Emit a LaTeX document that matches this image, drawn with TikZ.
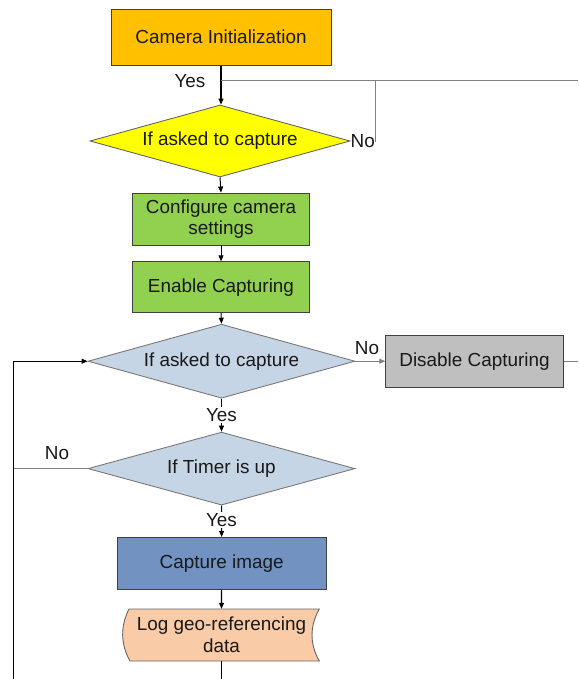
\documentclass[tikz,border=0pt]{standalone}
\usepackage{fontspec}
\setmainfont{Liberation Sans}
\usetikzlibrary{shapes.geometric,arrows.meta}

\definecolor{camorange}{HTML}{FFC000}
\definecolor{askyellow}{HTML}{FFFF00}
\definecolor{stepgreen}{HTML}{92D050}
\definecolor{decblue}{HTML}{C6D5E5}
\definecolor{offgray}{HTML}{BFBFBF}
\definecolor{capblue}{HTML}{7293C1}
\definecolor{logpeach}{HTML}{F9CBA7}
\definecolor{boxline}{HTML}{404040}
\definecolor{wire}{HTML}{7F7F7F}

\begin{document}
\begin{tikzpicture}[x=1pt,y=-1pt,
  every node/.style={font=\fontsize{18.9}{21.6}\selectfont, inner sep=0pt, text=black!90},
  box/.style={rectangle, draw=boxline, line width=0.9pt, align=center},
  dec/.style={diamond, draw=boxline!80, line width=0.9pt, align=center},
  lbl/.style={fill=white, inner sep=1.5pt},
  main/.style={draw=black, line width=1pt},
  thin/.style={draw=wire, line width=1pt},
  arr/.style={-{Triangle[length=6pt,width=5pt]}}]

\useasboundingbox (0,0) rectangle (578,679);

% process boxes and decisions
\node[box, fill=camorange, minimum width=220, minimum height=56] (cam) at (221,37.2) {Camera Initialization};
\node[dec, fill=askyellow, aspect=3.61, minimum width=260, minimum height=72] (d1) at (220,141) {If asked to capture};
\node[box, fill=stepgreen, minimum width=176.3, minimum height=52] (g1) at (221,219) {Configure camera\\settings};
\node[box, fill=stepgreen, minimum width=176.3, minimum height=51] (g2) at (221,287.2) {Enable Capturing};
\node[dec, fill=decblue, draw=boxline!70, aspect=3.61, minimum width=267, minimum height=74] (d2) at (221.5,361.2) {If asked to capture};
\node[box, fill=offgray, minimum width=177.6, minimum height=51.6] (dis) at (474.5,361.5) {Disable Capturing};
\node[dec, fill=decblue, draw=boxline!70, aspect=3.66, minimum width=267, minimum height=73] (d3) at (221.5,468.6) {If Timer is up};
\node[box, fill=capblue, minimum width=208.7, minimum height=51.7] (cap) at (221.6,563.2) {Capture image};

% stored-data shape for the log step
\draw[draw=boxline!80, line width=0.9pt, fill=logpeach]
  (129,609) -- (319.3,609)
  .. controls (309.6,626) and (309.6,644) .. (319.3,661)
  -- (130,661)
  .. controls (120.4,644) and (120.4,626) .. (129,609) -- cycle;
\node[align=center, minimum width=190, minimum height=52] (log) at (221.5,635) {Log geo-referencing\\data};

% free ends of the connectors
\coordinate (tj) at (375.7,80.7);
\coordinate (tr) at (578,80.7);
\coordinate (re) at (578,361.5);
\coordinate (lb) at (13.5,679);
\coordinate (bot) at (221.5,679);

% top: initialization into first decision, loop back on No
\draw[main, line width=1.3pt, arr] (cam.south) -- (cam.south |- d1.north);
\node (yes1) at (190,80.7) {Yes};
\draw[thin] (cam.south |- tj) -- (tr);
\node[anchor=west] (no1) at (d1.east) {No};
\draw[thin, line width=0.8pt] (no1.east) -| (tj);

% setup steps
\draw[main, arr] (d1.south) -- (g1.north);
\draw[main, arr] (g1.south) -- (g2.north);
\draw[main, arr] (g2.south) -- (d2.north);

% capture request decision
\draw[thin, arr] (d2.east) -- (d2.east -| dis.west);
\node (no2) at (367,348) {No};
\draw[thin] (dis.east) -- (dis.east -| re);
\draw[main, arr] (d2.south) -- (d3.north);
\node[lbl] (yes2) at (221.5,415) {Yes};

% timer decision
\draw[thin] (d3.west) -- (d3.west -| lb);
\node (no3) at (57,452.7) {No};
\draw[main, arr] (lb) |- (d2.west);
\draw[main, arr] (d3.south) -- (cap.north);
\node[lbl] (yes3) at (221.5,520) {Yes};

% capture and log
\draw[main, line width=1.2pt, arr] (cap.south) -- (log.north);
\draw[main, line width=1.2pt] (log.south) -- (bot);

\end{tikzpicture}
\end{document}
